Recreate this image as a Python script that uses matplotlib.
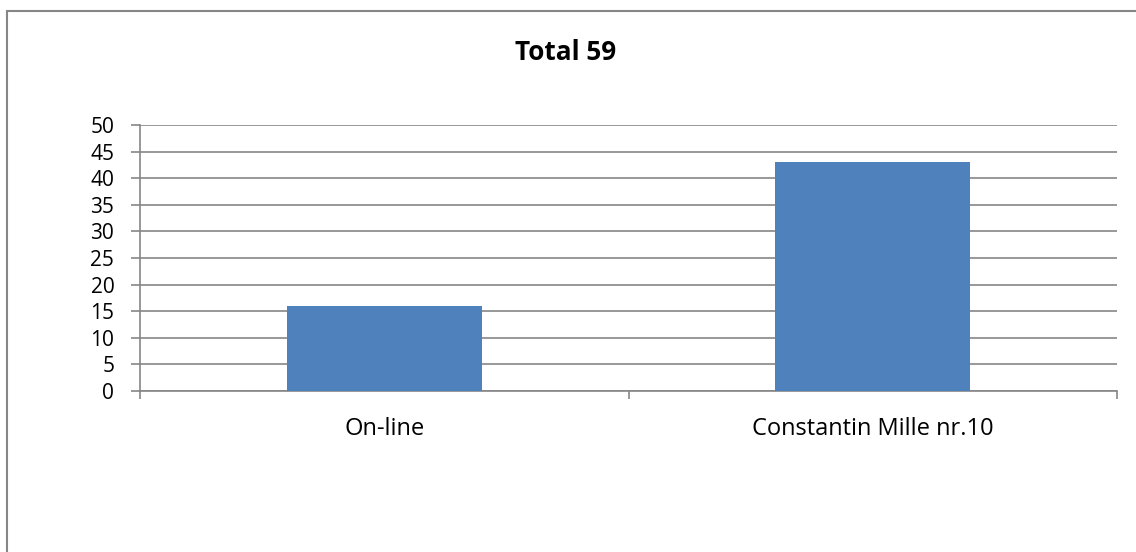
import matplotlib.pyplot as plt
from matplotlib.patches import Rectangle

categories = ['On-line', 'Constantin Mille nr.10']
values = [16, 43]
yticks = [0, 5, 10, 15, 20, 25, 30, 35, 40, 45, 50]

plt.rcParams['font.family'] = ['Open Sans', 'DejaVu Sans']
grey = '#868686'

fig = plt.figure(figsize=(11.36, 5.52), dpi=100)
ax = fig.add_axes([140/1136, 1-391/552, 977/1136, 266/552])

x = range(len(categories))
ax.bar(x, values, width=0.4, color='#4F81BD', zorder=3)
ax.set_xlim(-0.5, 1.5)
ax.set_ylim(0, 50)
ax.set_yticks(yticks)
ax.set_yticklabels([str(v) for v in yticks], fontsize=15)
ax.set_xticks(list(x))
ax.set_xticklabels(categories, fontsize=17)
ax.tick_params(axis='x', which='major', length=0, pad=19)
ax.set_xticks([-0.5, 0.5, 1.5], minor=True)
ax.tick_params(axis='x', which='minor', length=5.8, color=grey, width=1.2)
ax.tick_params(axis='y', length=6.5, color=grey, width=1.2, pad=12)
ax.grid(axis='y', color=grey, linewidth=1.2, zorder=0)
for s in ['top', 'right']:
    ax.spines[s].set_visible(False)
for s in ['left', 'bottom']:
    ax.spines[s].set_color(grey)
    ax.spines[s].set_linewidth(1.2)

fig.text(566/1136, 1-53/552, 'Total 59', ha='center', va='center', fontsize=18.8, fontweight='bold')

fig.patches.append(Rectangle((7/1136, -0.1), 1.2, 1-11/552+0.1, transform=fig.transFigure,
                             fill=False, edgecolor=grey, linewidth=1.5))

fig.savefig('out.png', dpi=100)
